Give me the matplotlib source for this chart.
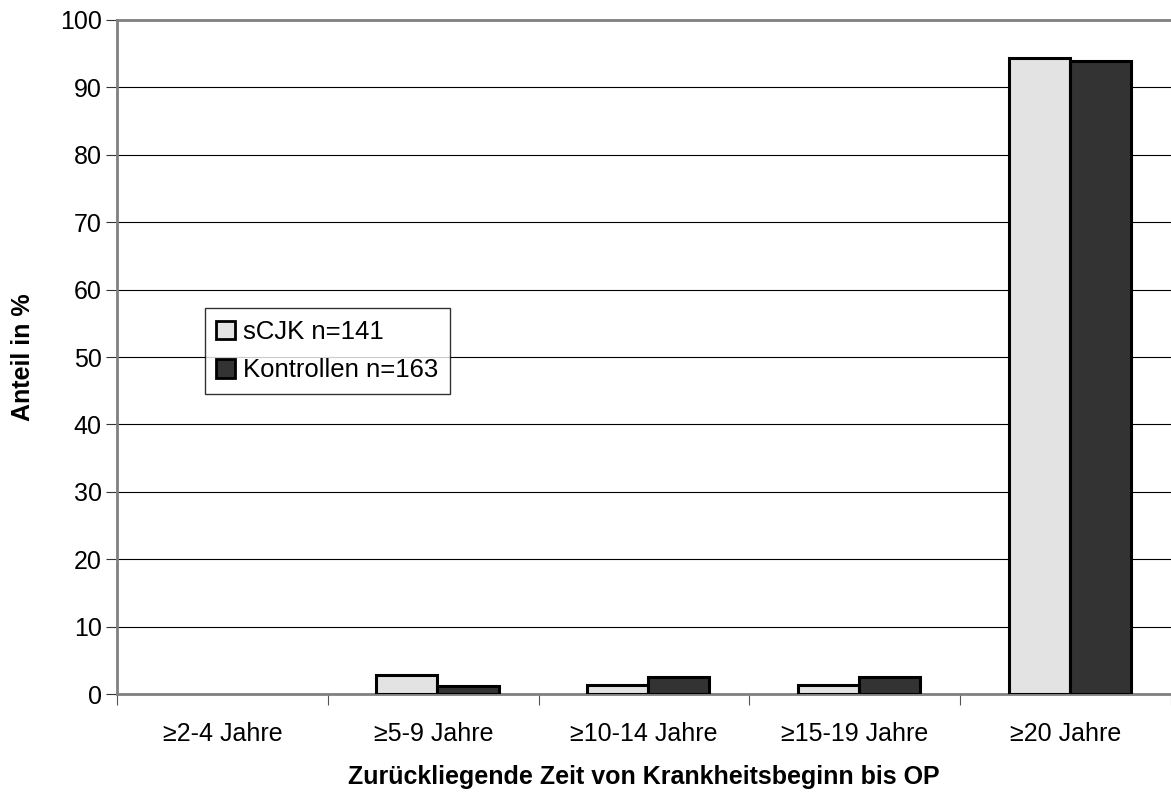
import numpy as np
import matplotlib
matplotlib.use('Agg')
import matplotlib.pyplot as plt
from matplotlib.patches import Patch

plt.rcParams['font.family'] = ['Liberation Sans', 'DejaVu Sans']

categories = ['≥2-4 Jahre', '≥5-9 Jahre', '≥10-14 Jahre', '≥15-19 Jahre', '≥20 Jahre']
scjk = [0.0, 2.8, 1.4, 1.4, 94.3]
kontrollen = [0.0, 1.2, 2.5, 2.5, 93.9]
series_labels = ['sCJK n=141', 'Kontrollen n=163']
y_ticks = list(range(0, 101, 10))

fig = plt.figure(figsize=(11.71, 7.96), dpi=100)
ax = fig.add_axes([0.1, 0.128, 0.9, 0.847])

x = np.arange(len(categories))
w = 0.29
# zero-height bars show no outline in the original
lw1 = [2.2 if v > 0 else 0 for v in scjk]
lw2 = [2.2 if v > 0 else 0 for v in kontrollen]
ax.bar(x - w / 2 + 0.02, scjk, w, color='#e3e3e3', edgecolor='black', linewidth=lw1, zorder=3)
ax.bar(x + w / 2 + 0.02, kontrollen, w, color='#333333', edgecolor='black', linewidth=lw2, zorder=3)

ax.set_xlim(-0.5, len(categories) - 0.5)
ax.set_ylim(0, 100)
ax.set_yticks(y_ticks)
ax.yaxis.grid(True, color='black', linewidth=0.8, zorder=0)
ax.set_axisbelow(True)

ax.set_xticks(np.arange(len(categories) + 1) - 0.5)
ax.set_xticklabels([])
ax.set_xticks(x, minor=True)
ax.set_xticklabels(categories, minor=True, fontsize=18)
ax.tick_params(axis='x', which='minor', length=0, pad=20)
ax.tick_params(axis='x', which='major', length=8, color='#555555', direction='out')
ax.tick_params(axis='y', labelsize=18, length=8, color='#333333', pad=3)

for s in ['left', 'top', 'bottom']:
    ax.spines[s].set_color('#808080')
    ax.spines[s].set_linewidth(2)
ax.spines['right'].set_visible(False)

ax.set_xlabel('Zurückliegende Zeit von Krankheitsbeginn bis OP', fontsize=18, fontweight='bold', labelpad=14)
ax.set_ylabel('Anteil in %', fontsize=18, fontweight='bold', labelpad=18)

handles = [Patch(facecolor='#e3e3e3', edgecolor='black', linewidth=2),
           Patch(facecolor='#333333', edgecolor='black', linewidth=2)]
leg = ax.legend(handles, series_labels, loc='upper left', bbox_to_anchor=(0.083, 0.572),
                fontsize=18.5, frameon=True, fancybox=False, edgecolor='black',
                handlelength=0.75, handleheight=0.75, handletextpad=0.3, borderpad=0.45,
                labelspacing=0.55, borderaxespad=0)
leg.get_frame().set_linewidth(1)

fig.savefig('out.png', dpi=100)
